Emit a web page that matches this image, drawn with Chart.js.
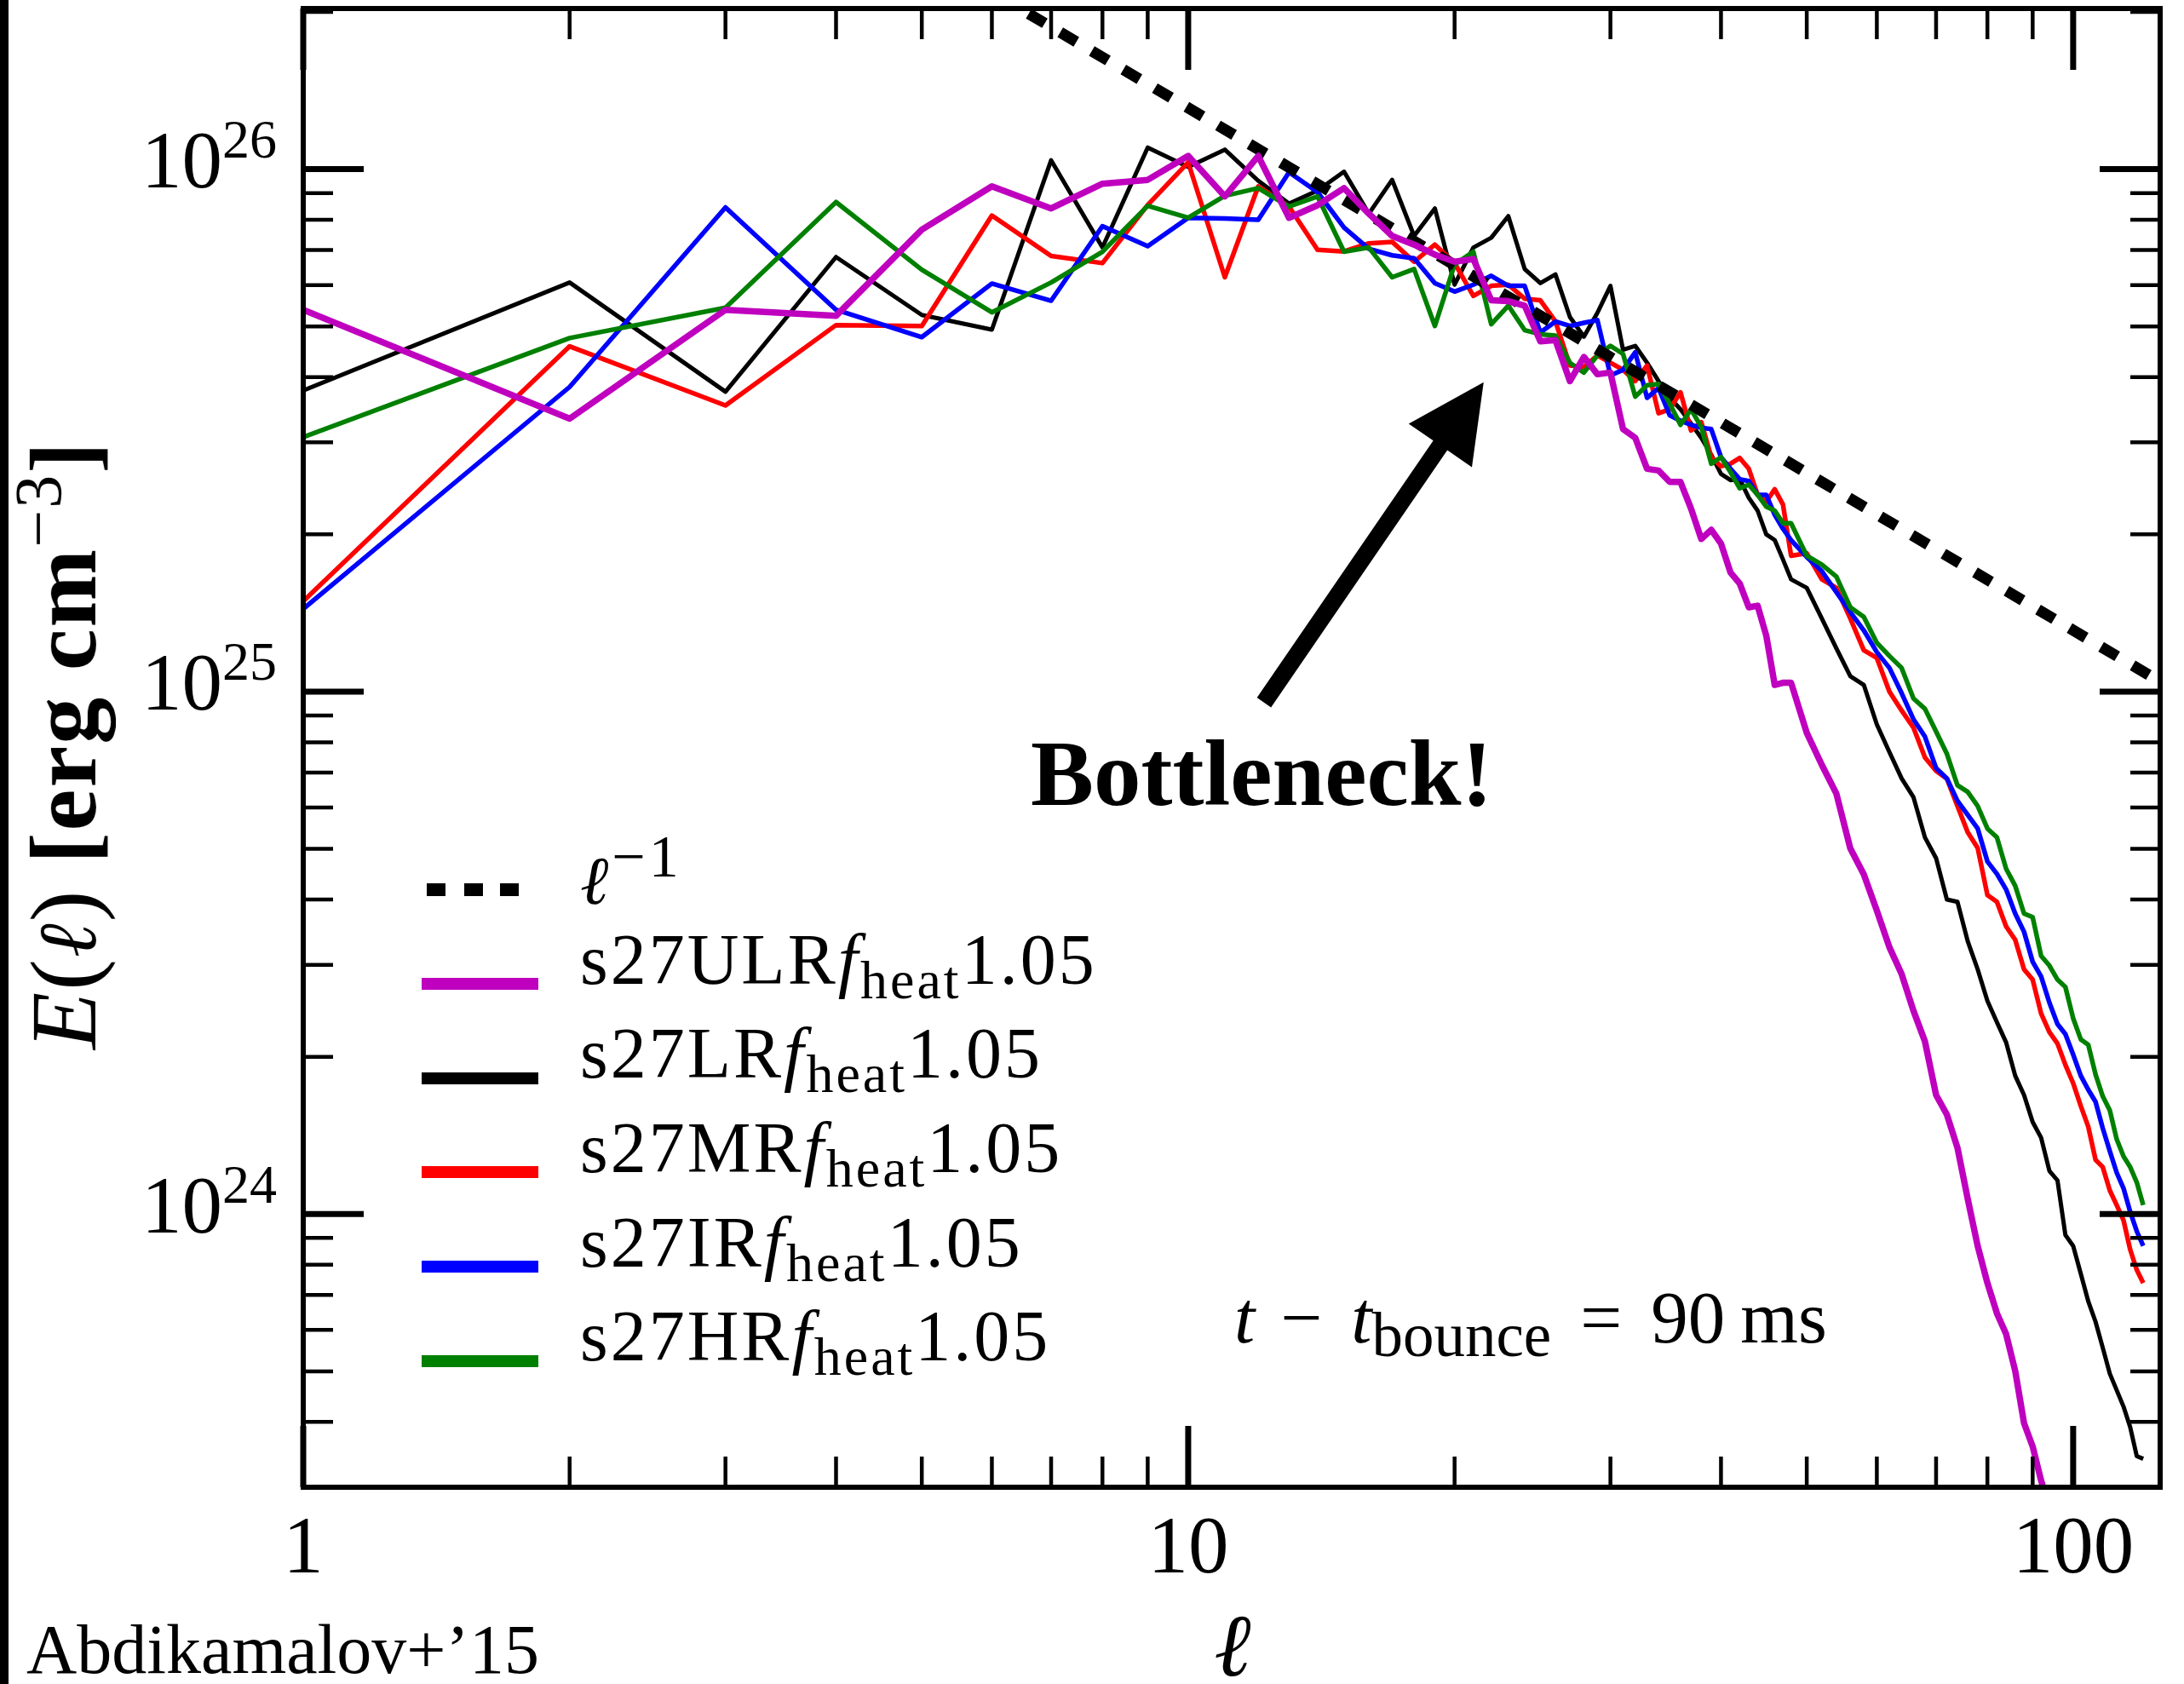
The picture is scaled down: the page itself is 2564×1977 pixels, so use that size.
<!DOCTYPE html>
<html>
<head>
<meta charset="utf-8">
<script src="https://cdn.jsdelivr.net/npm/chart.js@4.4.1/dist/chart.umd.min.js"></script>
<style>
html,body{margin:0;padding:0;background:#fff;}
#wrap{position:relative;width:2564px;height:1977px;overflow:hidden;background:#fff;}
#chart{position:absolute;left:0;top:0;}
#edge{position:absolute;left:0;top:0;width:10px;height:1977px;background:#000;}
.txt{position:absolute;white-space:nowrap;line-height:1;font-family:"Liberation Serif",serif;color:#000;}
.ell{font-family:"DejaVu Serif",serif;font-style:italic;}
.it{font-style:italic;}
.sw{position:absolute;}
</style>
</head>
<body>
<div id="wrap">
  <canvas id="chart" width="2564" height="1977"></canvas>
  <div id="edge"></div>
</div>
<script>
/* ===== Data ===== */
const ell = [1,2,3,4,5,6,7,8,9,10,11,12,13,14,15,16,17,18,19,20,21,22,23,24,25,26,27,28,29,30,
  31,32,33,34,35,36,37,38,39,40,41,42,43,44,45,46,47,
  48,50,52,54,56,58,60,62,64,66,68,70,72,74,76,78,80,82,84,86,88,90,92,94,96,98,100,
  102,104,106,108,110,112,114,116,118,120];

const eULR = [5.38e25,3.33e25,5.38e25,5.24e25,7.66e25,9.27e25,8.41e25,9.38e25,9.54e25,1.06e26,
  8.87e25,1.06e26,8.07e25,8.53e25,9.2e25,8.22e25,7.45e25,7.17e25,6.86e25,6.65e25,
  6.73e25,5.61e25,5.59e25,5.48e25,4.68e25,4.71e25,3.93e25,4.37e25,4.05e25,4.08e25,
  3.18e25,3.06e25,2.67e25,2.65e25,2.52e25,2.52e25,2.24e25,1.96e25,2.04e25,1.92e25,
  1.69e25,1.61e25,1.45e25,1.46e25,1.28e25,1.03e25,1.04e25,
  1.04e25,8.34e24,7.24e24,6.38e24,5.01e24,4.47e24,3.81e24,3.24e24,2.88e24,2.45e24,
  2.14e24,1.69e24,1.55e24,1.34e24,1.07e24,8.69e23,7.38e23,6.46e23,5.89e23,5.01e23,
  3.98e23,3.59e23,3.09e23,2.75e23,
  null,null,null,null,null,null,null,null,null,null,null,null,null];

const eLR = [3.77e25,6.07e25,3.75e25,6.79e25,5.26e25,4.93e25,1.04e26,7.08e25,1.10e26,1.01e26,
  1.09e26,9.5e25,8.59e25,9.1e25,9.89e25,8.22e25,9.54e25,7.45e25,8.41e25,6.01e25,
  7.08e25,7.39e25,8.13e25,6.44e25,6.05e25,6.29e25,5.21e25,4.78e25,5.31e25,5.98e25,
  4.51e25,4.59e25,4.26e25,3.93e25,3.65e25,3.47e25,3.26e25,3.06e25,2.84e25,2.61e25,
  2.54e25,2.55e25,2.35e25,2.22e25,2.00e25,1.95e25,1.79e25,
  1.64e25,1.58e25,1.38e25,1.21e25,1.07e25,1.03e25,8.65e24,7.66e24,6.82e24,6.28e24,
  5.26e24,4.80e24,4.0e24,3.96e24,3.33e24,2.94e24,2.56e24,2.33e24,2.13e24,1.84e24,
  1.69e24,1.50e24,1.40e24,1.21e24,1.16e24,9.12e23,8.69e23,7.69e23,6.81e23,6.22e23,
  5.55e23,4.95e23,4.60e23,4.28e23,3.91e23,3.44e23,3.40e23];

const eMR = [1.49e25,4.58e25,3.53e25,5.03e25,5.01e25,8.15e25,6.82e25,6.61e25,8.54e25,1.03e26,
  6.21e25,9.27e25,8.48e25,7.01e25,6.96e25,7.21e25,7.26e25,6.65e25,7.17e25,6.61e25,
  5.72e25,5.98e25,6.01e25,5.65e25,5.61e25,5.11e25,4.21e25,4.18e25,4.40e25,4.26e25,
  4.13e25,3.93e25,4.21e25,3.41e25,3.47e25,3.74e25,3.16e25,3.28e25,2.81e25,2.70e25,
  2.73e25,2.80e25,2.67e25,2.38e25,2.31e25,2.44e25,2.28e25,
  1.82e25,1.84e25,1.64e25,1.58e25,1.38e25,1.20e25,1.16e25,1.00e25,9.20e24,8.53e24,
  7.48e24,7.05e24,6.81e24,6.04e24,5.38e24,5.02e24,4.08e24,3.96e24,3.55e24,3.35e24,
  2.94e24,2.81e24,2.42e24,2.23e24,2.12e24,1.93e24,1.78e24,1.61e24,1.47e24,1.27e24,
  1.23e24,1.11e24,1.04e24,9.73e23,8.55e23,7.82e23,7.38e23];

const eIR = [1.44e25,3.83e25,8.45e25,5.38e25,4.77e25,6.04e25,5.6e25,7.78e25,7.12e25,8.07e25,
  8.05e25,8.0e25,9.86e25,9.04e25,7.73e25,7.04e25,6.84e25,6.75e25,6.05e25,5.83e25,
  6.01e25,6.25e25,5.98e25,5.98e25,4.87e25,5.11e25,5.01e25,5.08e25,5.14e25,4.03e25,
  4.13e25,4.46e25,3.65e25,3.81e25,3.38e25,3.30e25,3.24e25,3.20e25,3.18e25,2.81e25,
  2.67e25,2.55e25,2.53e25,2.38e25,2.38e25,2.18e25,2.05e25,
  1.95e25,1.81e25,1.70e25,1.55e25,1.42e25,1.31e25,1.19e25,1.11e25,9.93e24,8.85e24,
  8.20e24,7.14e24,6.82e24,6.18e24,5.81e24,5.47e24,4.73e24,4.48e24,4.18e24,3.76e24,
  3.47e24,3.04e24,2.85e24,2.54e24,2.31e24,2.21e24,2.02e24,1.84e24,1.73e24,1.64e24,
  1.46e24,1.32e24,1.20e24,1.12e24,1.01e24,9.27e23,8.69e23];

const eHR = [3.07e25,4.75e25,5.43e25,8.65e25,6.42e25,5.32e25,6.07e25,6.95e25,8.51e25,8.07e25,
  8.89e25,9.2e25,8.48e25,8.87e25,6.95e25,7.08e25,6.21e25,6.44e25,5.01e25,6.57e25,
  6.95e25,5.05e25,5.48e25,4.92e25,4.83e25,4.80e25,4.26e25,4.08e25,4.40e25,4.59e25,
  4.43e25,3.67e25,3.86e25,3.88e25,3.56e25,3.24e25,3.47e25,3.21e25,2.73e25,2.81e25,
  2.63e25,2.45e25,2.49e25,2.38e25,2.26e25,2.22e25,2.10e25,
  2.10e25,1.82e25,1.75e25,1.66e25,1.45e25,1.39e25,1.24e25,1.17e25,1.11e25,9.70e24,
  9.27e24,8.39e24,7.60e24,6.62e24,6.43e24,6.04e24,5.47e24,5.26e24,4.58e24,4.25e24,
  3.76e24,3.70e24,3.12e24,2.99e24,2.81e24,2.72e24,2.37e24,2.16e24,2.11e24,1.85e24,
  1.68e24,1.58e24,1.39e24,1.29e24,1.23e24,1.15e24,1.04e24];

// l^-1 reference line (two ends)
const ellPow = [1, 125.4];
const ePow = [1.31e27, 1.045e25];

const seriesNames = ['s27ULR','s27LR','s27MR','s27IR','s27HR'];
const seriesColors = ['#BF00BF','#000000','#FF0000','#0000FF','#008000'];
const seriesWidths = [7.5,5,5.5,5.5,5.5];
const seriesValues = [eULR,eLR,eMR,eIR,eHR];

const xMajor = [1,10,100];
const xTickLabels = ['1','10','100'];
const yMajor = [1e24,1e25,1e26];
const yTickExp = ['24','25','26'];

const arrowFrom = [12.18, 9.53e24];
const arrowTo = [21.57, 3.91e25];

/* ===== Chart ===== */
const pts = (xs, ys) => xs.map((v,i)=>({x:v, y:ys[i]}));

const datasets = seriesValues.map((vals,i)=>({
  label: seriesNames[i],
  data: pts(ell, vals),
  borderColor: seriesColors[i],
  borderWidth: seriesWidths[i],
  pointRadius: 0, tension: 0, fill: false, spanGaps: false,
  borderJoinStyle: 'round', clip: 0,
  order: i===0 ? 0 : 10 - i
}));
datasets.push({
  label: 'l^-1',
  data: pts(ellPow, ePow),
  borderColor: '#000', borderWidth: 13, borderDash: [22,21], borderCapStyle: 'butt',
  pointRadius: 0, tension: 0, fill: false, clip: 0, order: 1
});

function minorTicks(lo, hi){
  const out = [];
  for(let d = Math.floor(Math.log10(lo)); d <= Math.ceil(Math.log10(hi)); d++){
    for(let m = 2; m <= 9; m++){
      const v = m * Math.pow(10, d);
      if(v >= lo && v <= hi) out.push(v);
    }
  }
  return out;
}

const framePlugin = {
  id: 'frame',
  afterDatasetsDraw(chart){
    const {ctx, chartArea:a, scales:{x, y}} = chart;
    ctx.save();
    ctx.strokeStyle = '#000';
    ctx.lineCap = 'butt';
    const xt = (vals, len, w) => {
      ctx.lineWidth = w;
      vals.forEach(v=>{
        const p = x.getPixelForValue(v);
        ctx.beginPath();
        ctx.moveTo(p, a.bottom); ctx.lineTo(p, a.bottom - len);
        ctx.moveTo(p, a.top); ctx.lineTo(p, a.top + len);
        ctx.stroke();
      });
    };
    const yt = (vals, len, w) => {
      ctx.lineWidth = w;
      vals.forEach(v=>{
        const p = y.getPixelForValue(v);
        ctx.beginPath();
        ctx.moveTo(a.left, p); ctx.lineTo(a.left + len, p);
        ctx.moveTo(a.right, p); ctx.lineTo(a.right - len, p);
        ctx.stroke();
      });
    };
    xt(minorTicks(x.min, x.max), 36, 4.5);
    xt(xMajor, 72, 7);
    yt(minorTicks(y.min, y.max), 35, 4.5);
    yt(yMajor, 71, 7);
    ctx.lineWidth = 6;
    ctx.strokeRect(a.left, a.top, a.right - a.left, a.bottom - a.top);

    // Bottleneck arrow
    const x0 = x.getPixelForValue(arrowFrom[0]), y0 = y.getPixelForValue(arrowFrom[1]);
    const x1 = x.getPixelForValue(arrowTo[0]), y1 = y.getPixelForValue(arrowTo[1]);
    const L = Math.hypot(x1-x0, y1-y0), dx = (x1-x0)/L, dy = (y1-y0)/L;
    const nx = -dy, ny = dx, hl = 90, hw = 45, sw = 10;
    const bx = x1 - dx*hl, by = y1 - dy*hl;
    ctx.fillStyle = '#000';
    ctx.beginPath();
    ctx.moveTo(x0 + nx*sw, y0 + ny*sw);
    ctx.lineTo(bx + nx*sw, by + ny*sw);
    ctx.lineTo(bx + nx*hw, by + ny*hw);
    ctx.lineTo(x1, y1);
    ctx.lineTo(bx - nx*hw, by - ny*hw);
    ctx.lineTo(bx - nx*sw, by - ny*sw);
    ctx.lineTo(x0 - nx*sw, y0 - ny*sw);
    ctx.closePath();
    ctx.fill();
    ctx.restore();
  }
};

const chart = new Chart(document.getElementById('chart'), {
  type: 'line',
  data: { datasets },
  options: {
    responsive: false, animation: false, devicePixelRatio: 1,
    layout: { padding: { left: 356, top: 10, right: 28, bottom: 231 } },
    plugins: { legend: { display: false }, tooltip: { enabled: false } },
    scales: {
      x: { type: 'logarithmic', min: 1, max: 125.4, display: false },
      y: { type: 'logarithmic', min: 3e23, max: 2.03e26, display: false }
    }
  },
  plugins: [framePlugin]
});

/* ===== Text overlay ===== */
const wrap = document.getElementById('wrap');
function addText(html, left, baseline, size, align, spacing){
  const d = document.createElement('div');
  d.className = 'txt';
  d.innerHTML = html;
  d.style.left = left + 'px';
  d.style.top = (baseline - 0.8375*size) + 'px';
  d.style.fontSize = size + 'px';
  if(spacing) d.style.letterSpacing = spacing + 'px';
  if(align === 'right') d.style.transform = 'translateX(-100%)';
  if(align === 'center') d.style.transform = 'translateX(-50%)';
  wrap.appendChild(d);
  return d;
}
const sup = (t, fs, up) => `<span style="font-size:${fs}px;position:relative;top:${-up}px">${t}</span>`;

const xs = chart.scales.x, ys = chart.scales.y;
xMajor.forEach((v,i)=> addText(xTickLabels[i], xs.getPixelForValue(v), 1847, 95, 'center'));
yMajor.forEach((v,i)=> addText('10' + sup(yTickExp[i], 64, 35), 325, ys.getPixelForValue(v) + 22, 95, 'right'));

// axis titles
addText('<span class="ell" style="font-size:104px">ℓ</span>', 1447, 1966, 104, 'center');
const yt = document.createElement('div');
yt.className = 'txt';
yt.style.fontSize = '110px';
yt.style.letterSpacing = '2px';
yt.style.transformOrigin = '0 0';
yt.style.transform = `translate(${112 - 0.8375*110}px, 1232px) rotate(-90deg)`;
yt.innerHTML = '<span class="it">E</span>(<span class="ell" style="font-size:96px">ℓ</span>) <b>[erg cm</b>' +
  sup('−3', 78, 41) + '<b>]</b>';
wrap.appendChild(yt);

// legend
const legTop = 1155, legStep = 110.7;
[501,545,587].forEach(l=>{
  const s = document.createElement('div');
  s.className = 'sw';
  s.style.cssText = `left:${l}px;top:1037px;width:22px;height:15px;background:#000;`;
  wrap.appendChild(s);
});
addText('<span class="ell" style="font-size:80px">ℓ</span>' + sup('−1', 70, 32), 681, 1061, 84, null, 4);
seriesNames.forEach((n,i)=>{
  const cy = legTop + i*legStep;
  const s = document.createElement('div');
  s.className = 'sw';
  s.style.cssText = `left:495px;top:${cy-7}px;width:137px;height:14px;background:${seriesColors[i]};`;
  wrap.appendChild(s);
  addText(n + '<span class="it">f</span>' + sup('heat', 64, -17) + '1.05', 681, cy, 84, null, 3);
});

// annotations
addText('<b>Bottleneck!</b>', 1210, 945, 111);
addText('<span class="it">t</span><span style="margin-left:30px">−</span>' +
  '<span class="it" style="margin-left:34px">t</span>' + sup('bounce', 73, -16) +
  '<span style="margin-left:34px">=</span><span style="margin-left:34px">90</span>' +
  '<span style="margin-left:18px">ms</span>', 1449, 1576, 87);
addText('Abdikamalov+’15', 31, 1965, 82);
</script>
</body>
</html>
